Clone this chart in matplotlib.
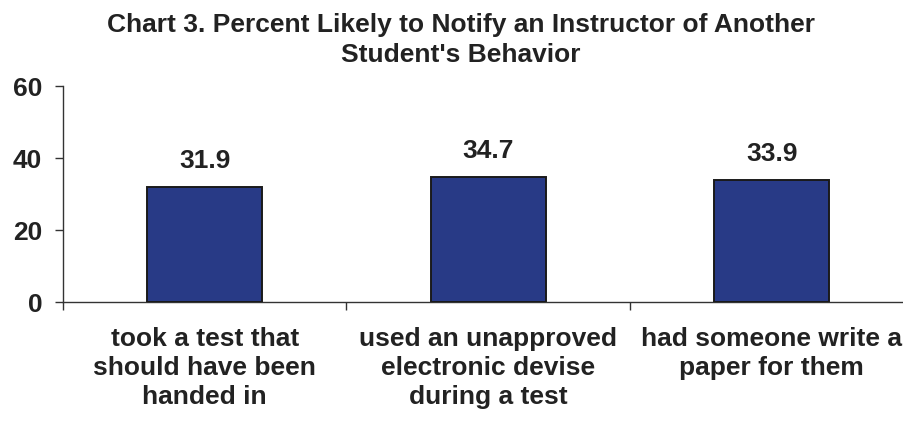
import matplotlib.pyplot as plt
from matplotlib.ticker import FixedLocator

categories = [
    "took a test that\nshould have been\nhanded in",
    "used an unapproved\nelectronic devise\nduring a test",
    "had someone write a\npaper for them",
]
values = [31.9, 34.7, 33.9]
yticks = [0, 20, 40, 60]

plt.rcParams["font.family"] = ["Liberation Sans", "DejaVu Sans"]
plt.rcParams["font.weight"] = "bold"
FS = 19
TXT = "#222222"

fig = plt.figure(figsize=(9.04, 4.21), dpi=100)
ax = fig.add_axes([63 / 904, 119 / 421, (913.5 - 63) / 904, 216 / 421])

x = list(range(len(values)))
ax.bar(x, values, width=0.405, color="#283A86", edgecolor="#1a1a1a", linewidth=1.4, zorder=3)
for xi, v in zip(x, values):
    ax.annotate(f"{v:.1f}", (xi, v), xytext=(0, 14), textcoords="offset points",
                ha="center", va="baseline", fontsize=FS, fontweight="bold", color=TXT)

ax.set_xlim(-0.5, len(values) - 0.5)
ax.set_ylim(0, 60)
ax.set_yticks(yticks)
ax.set_yticklabels([str(t) for t in yticks], fontsize=FS, fontweight="bold", color=TXT)
ax.tick_params(axis="y", direction="out", length=6, width=1, color="#333333", pad=9)

ax.set_xticks(x)
ax.set_xticklabels(categories, fontsize=FS, fontweight="bold", color=TXT, linespacing=1.26)
ax.tick_params(axis="x", which="major", length=0, pad=18)
ax.xaxis.set_minor_locator(FixedLocator([-0.5 + i for i in range(len(values) + 1)]))
ax.tick_params(axis="x", which="minor", direction="out", length=6, width=1, color="#333333")

for side in ["top", "right"]:
    ax.spines[side].set_visible(False)
for side in ["left", "bottom"]:
    ax.spines[side].set_color("#333333")
    ax.spines[side].set_linewidth(1)

fig.text(461 / 904, 1 - 32 / 421, "Chart 3. Percent Likely to Notify an Instructor of Another",
         ha="center", va="baseline", fontsize=FS, fontweight="bold", color=TXT)
fig.text(461 / 904, 1 - 62 / 421, "Student's Behavior",
         ha="center", va="baseline", fontsize=FS, fontweight="bold", color=TXT)

fig.savefig("out.png", dpi=100, facecolor="white")
